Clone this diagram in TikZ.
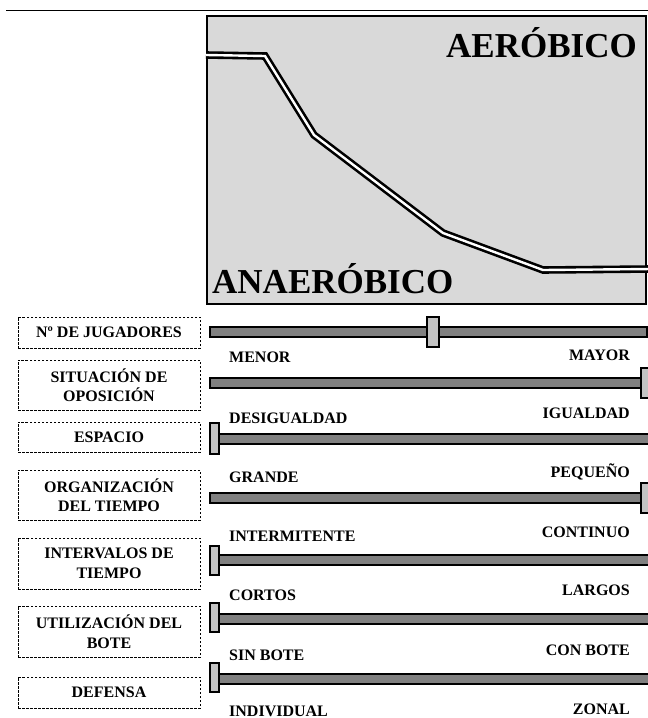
\documentclass[tikz,border=0pt]{standalone}
\usepackage{fontspec}
\setmainfont{Liberation Serif}
\usepackage{tikz}
\usetikzlibrary{calc}

\definecolor{zonegray}{RGB}{217,217,217}
\definecolor{bargray}{RGB}{128,128,128}
\definecolor{knobgray}{RGB}{195,195,195}

\tikzset{
  factor/.style={draw, line width=0.7pt, dash pattern=on 2.5pt off 1.5pt,
    minimum width=182pt, align=center, inner sep=0pt,
    font=\bfseries\fontsize{16}{19.5}\selectfont},
  extreme/.style={inner sep=0pt, font=\bfseries\fontsize{16}{19}\selectfont},
  zone/.style={inner sep=0pt, font=\bfseries\fontsize{35}{40}\selectfont},
  bar/.style={draw, line width=2.4pt, fill=bargray},
  knob/.style={draw, line width=2pt, fill=knobgray}
}

\begin{document}
\begin{tikzpicture}[x=1pt, y=-1pt]
        \useasboundingbox (0,0) rectangle (648,718);

        % Top rule
        \draw[line width=1pt] (6,10) -- (648,10);

        % Energy zone box
        \draw[fill=zonegray, line width=1.8pt] (207,16) rectangle (646,304);

        % Threshold curve (double line)
        \coordinate (C0) at (206,55);
        \coordinate (C1) at (265,56);
        \coordinate (C2) at (314,135);
        \coordinate (C3) at (443,233);
        \coordinate (C4) at (543,270);
        \coordinate (C5) at (652,269);
        \draw[line width=2.6pt, double=white, double distance=2.4pt, line join=miter]
            (C0) -- (C1) -- (C2) -- (C3) -- (C4) -- (C5);

        \node[zone, anchor=base east] (aer) at (637,57) {AERÓBICO};
        \node[zone, anchor=base west] (anaer) at (212,293) {ANAERÓBICO};

        % Factor boxes
        \node[factor, minimum height=31pt] (jug) at (109,332.5) {Nº DE JUGADORES};
        \node[factor, minimum height=50pt] (opo) at (109,385) {SITUACIÓN DE\\OPOSICIÓN};
        \node[factor, minimum height=30pt] (esp) at (109,437) {ESPACIO};
        \node[factor, minimum height=50pt] (org) at (109,495) {ORGANIZACIÓN\\DEL TIEMPO};
        \node[factor, minimum height=51pt] (int) at (109,563.5) {INTERVALOS DE\\TIEMPO};
        \node[factor, minimum height=51pt] (bot) at (109,631.5) {UTILIZACIÓN DEL\\BOTE};
        \node[factor, minimum height=31pt] (def) at (109,692.5) {DEFENSA};

        % Slider bars
        \draw[bar] (210,327) rectangle (647,337);
        \draw[bar] (210,378) rectangle (652,388);
        \draw[bar] (210,434) rectangle (652,444);
        \draw[bar] (210,493) rectangle (652,503);
        \draw[bar] (210,555) rectangle (652,565);
        \draw[bar] (210,614) rectangle (652,624);
        \draw[bar] (210,674) rectangle (652,684);

        % Slider knobs
        \draw[knob] (427,317) rectangle (439,347);
        \draw[knob] (641,368) rectangle (653,398);
        \draw[knob] (210,423) rectangle (219,454);
        \draw[knob] (641,483) rectangle (653,513);
        \draw[knob] (210,546) rectangle (219,575);
        \draw[knob] (210,603) rectangle (219,632);
        \draw[knob] (210,663) rectangle (219,692);

        % Extremes of each factor
        \node[extreme, anchor=base west] (lo1) at (229,362) {MENOR};
        \node[extreme, anchor=base east] (hi1) at (630,360) {MAYOR};
        \node[extreme, anchor=base west] (lo2) at (229,423) {DESIGUALDAD};
        \node[extreme, anchor=base east] (hi2) at (630,418) {IGUALDAD};
        \node[extreme, anchor=base west] (lo3) at (229,482) {GRANDE};
        \node[extreme, anchor=base east] (hi3) at (630,477) {PEQUEÑO};
        \node[extreme, anchor=base west] (lo4) at (229,541) {INTERMITENTE};
        \node[extreme, anchor=base east] (hi4) at (630,537) {CONTINUO};
        \node[extreme, anchor=base west] (lo5) at (229,600) {CORTOS};
        \node[extreme, anchor=base east] (hi5) at (630,595) {LARGOS};
        \node[extreme, anchor=base west] (lo6) at (229,660) {SIN BOTE};
        \node[extreme, anchor=base east] (hi6) at (630,655) {CON BOTE};
        \node[extreme, anchor=base west] (lo7) at (229,716) {INDIVIDUAL};
        \node[extreme, anchor=base east] (hi7) at (630,714) {ZONAL};
    \end{tikzpicture}
\end{document}
